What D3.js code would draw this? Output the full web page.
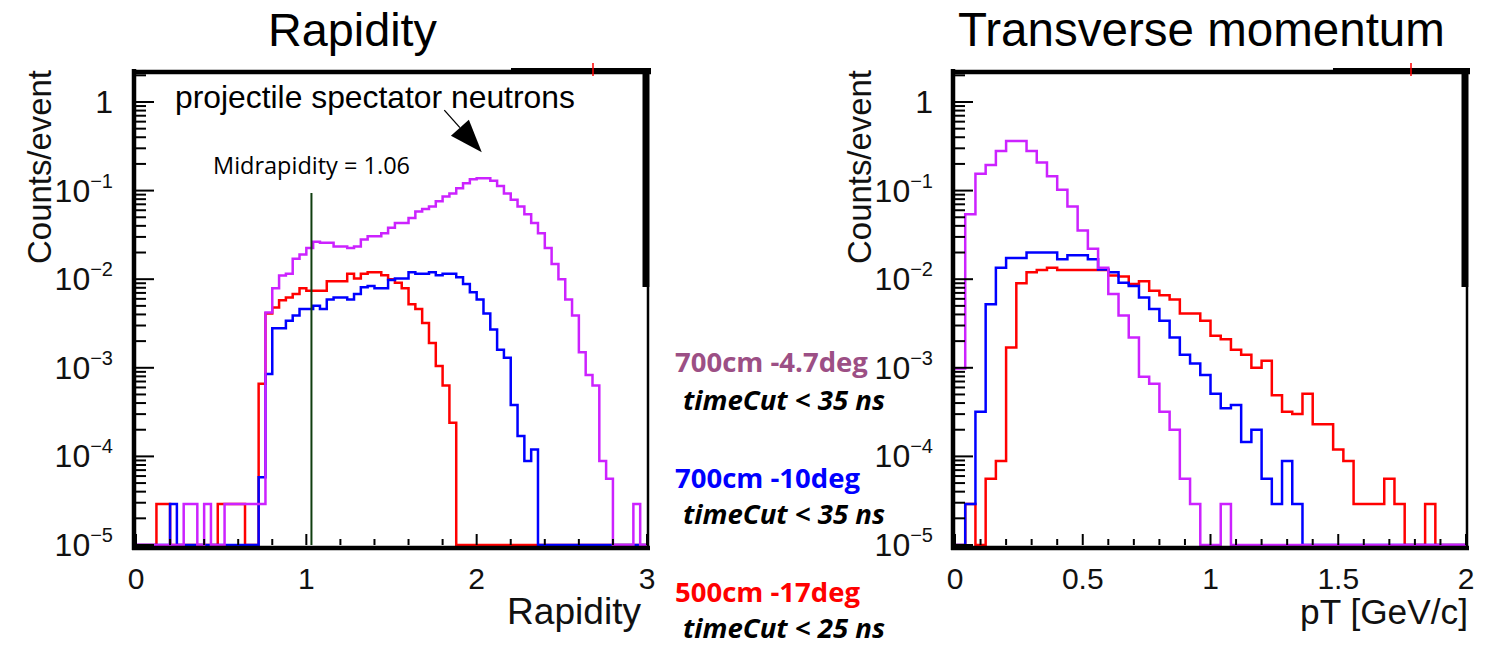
<!DOCTYPE html>
<html><head><meta charset="utf-8">
<script src="https://cdn.jsdelivr.net/npm/d3@7"></script>
<style>body{margin:0;background:#fff}svg{display:block}</style>
</head><body>
<svg id="c" width="1486" height="649"></svg>
<script>
// ---------------- data ----------------
const rapBinWidth = 0.04;   // 75 bins, 0..3
const ptBinWidth = 0.04;    // 50 bins, 0..2

const rapMagenta = [0,0,0,0,0,0,0, 2.9e-5,2.9e-5,0,2.9e-5,0,0, 2.9e-5,2.9e-5,2.9e-5,2.9e-5,2.9e-5,2.9e-5,
 4.2e-3,7.9e-3,1.1e-2,1.15e-2,1.7e-2,1.9e-2,2.25e-2,2.65e-2,2.57e-2,2.57e-2,
 2.34e-2,2.34e-2,2.25e-2,2.34e-2,2.8e-2,3.05e-2,3.05e-2,3.3e-2,3.8e-2,4.3e-2,
 4.3e-2,4.9e-2,5.8e-2,6.2e-2,6.6e-2,7.6e-2,8.6e-2,9.3e-2,0.106,0.121,
 0.134,0.138,0.138,0.129,0.113,9.3e-2,7.9e-2,6.6e-2,5.4e-2,4.3e-2,
 3.3e-2,2.25e-2,1.48e-2,1.0e-2,5.9e-3,3.9e-3,1.5e-3,8.3e-4,6.3e-4,8.9e-5,
 5.6e-5,0,0,0,2.9e-5,0];
const rapBlue = [0,0,0,0,0,2.9e-5,0,0,0,0,0,0,0,0,0,0,0,0,5.8e-5,8.5e-4,
 2.8e-3,2.8e-3,3.4e-3,3.9e-3,4.6e-3,4.6e-3,5.0e-3,4.6e-3,5.9e-3,6.2e-3,
 6.2e-3,5.9e-3,6.8e-3,8.1e-3,8.4e-3,7.9e-3,7.9e-3,9.8e-3,1.02e-2,1.02e-2,
 1.2e-2,1.15e-2,1.15e-2,1.2e-2,1.11e-2,1.15e-2,1.15e-2,1.05e-2,8.8e-3,7.1e-3,
 5.9e-3,4.1e-3,2.7e-3,1.6e-3,1.3e-3,3.8e-4,1.7e-4,8.9e-5,1.2e-4,0,
 0,0,0,0,0,0,0,0,0,0,0,0,0,0,0];
const rapRed = [0,0,0,2.9e-5,2.9e-5,0,0,0,0,0,0,0,2.9e-5,2.9e-5,2.9e-5,2.9e-5,0,0,6.6e-4,4.1e-3,
 4.8e-3,5.8e-3,6.2e-3,6.8e-3,7.9e-3,7.4e-3,7.4e-3,7.4e-3,9.5e-3,9.5e-3,
 9.5e-3,1.15e-2,1.02e-2,1.15e-2,1.2e-2,1.2e-2,1.11e-2,1.0e-2,9.1e-3,7.9e-3,
 5.2e-3,4.6e-3,3.2e-3,1.9e-3,1.05e-3,6.3e-4,2.4e-4,0,0,0,
 0,0,0,0,0,0,0,0,0,0,0,0,0,0,0,0,0,0,0,0,0,0,0,0,0];

const ptMagenta = [9.8e-4,5.4e-2,0.155,0.195,0.28,0.363,0.363,0.28,0.207,0.145,
 0.102,6.6e-2,3.55e-2,2.2e-2,1.35e-2,6.8e-3,3.9e-3,2.2e-3,7.9e-4,6.6e-4,
 3.2e-4,2.0e-4,5.6e-5,2.9e-5,0,0,2.9e-5,0,0,0,
 0,0,0,0,0,0,0,0,0,0,0,0,0,0,0,0,0,0,0,0];
const ptBlue = [0,2.9e-5,3.2e-4,5.2e-3,1.35e-2,1.74e-2,1.74e-2,2.0e-2,2.0e-2,2.0e-2,
 1.68e-2,1.86e-2,1.86e-2,1.68e-2,1.29e-2,1.2e-2,9.1e-3,8.4e-3,6.2e-3,4.6e-3,
 3.4e-3,2.2e-3,1.4e-3,1.12e-3,8.3e-4,5.1e-4,3.5e-4,3.8e-4,1.45e-4,2.0e-4,
 5.6e-5,2.9e-5,8.9e-5,2.9e-5,0,0,0,0,0,0,
 0,0,0,0,0,0,0,0,0,0];
const ptRed = [0,2.9e-5,0,5.6e-5,8.9e-5,1.7e-3,9.0e-3,1.2e-2,1.27e-2,1.35e-2,
 1.27e-2,1.27e-2,1.27e-2,1.27e-2,1.27e-2,1.1e-2,1.07e-2,8.8e-3,9.5e-3,7.4e-3,
 6.6e-3,5.9e-3,4.1e-3,4.1e-3,3.4e-3,2.3e-3,2.1e-3,1.6e-3,1.4e-3,1.0e-3,
 1.2e-3,4.9e-4,3.2e-4,3.0e-4,5.1e-4,2.3e-4,2.3e-4,1.2e-4,8.9e-5,2.9e-5,
 2.9e-5,2.9e-5,5.6e-5,2.9e-5,0,0,2.9e-5,0,0,0];

const yTickExponents = [0,-1,-2,-3,-4,-5];
const rapTicks = [0,1,2,3];
const rapTickLabels = ["0","1","2","3"];
const ptTicks = [0,0.5,1,1.5,2];
const ptTickLabels = ["0","0.5","1","1.5","2"];

const panelTitles = ["Rapidity","Transverse momentum"];
const xTitles = ["Rapidity","pT [GeV/c]"];
const yTitle = "Counts/event";

const legendLabels = ["700cm -4.7deg","700cm -10deg","500cm -17deg"];
const legendCuts = ["timeCut < 35 ns","timeCut < 35 ns","timeCut < 25 ns"];
const legendColors = ["#9c4f85","#0000ff","#ff0000"];
const seriesColors = ["#ff0000","#0000ff","#cc22ff"]; // red, blue, magenta (draw order)

const midrapidityLabel = "Midrapidity = 1.06";
const midLineX = 1.03, midLineTop = 0.094;
const annotation = "projectile spectator neutrons";
const arrowTail = [1.81, 0.81], arrowTip = [2.03, 0.27];

// ---------------- drawing ----------------
const svg = d3.select("#c");
const ROOT = "'Liberation Sans', Arial, sans-serif";
const CAL = "'Open Sans', 'Noto Sans', sans-serif";
const yBot = 545, yTop = 72;
const y = d3.scaleLog().domain([1e-5, 2.18]).range([yBot, yTop]);

function fit(sel, w){
  const n = sel.node(); const cur = n.getComputedTextLength();
  const fs = parseFloat(sel.attr("font-size"));
  sel.attr("font-size", (fs*w/cur).toFixed(2));
}

const panels = [
  {x0:136, x1:647, domain:[0,3], bw:rapBinWidth, series:[rapRed,rapBlue,rapMagenta],
   ticks:rapTicks, labels:rapTickLabels, minor:0.2, topStep:511, yTitleX:51, yLabelRight:113,
   titleX:268, xTitle:xTitles[0], xTitleRight:641, xTitleW:134, redMark:593},
  {x0:955, x1:1466, domain:[0,2], bw:ptBinWidth, series:[ptRed,ptBlue,ptMagenta],
   ticks:ptTicks, labels:ptTickLabels, minor:0.1, topStep:1333, yTitleX:871, yLabelRight:933,
   titleX:958, xTitle:xTitles[1], xTitleRight:1468, xTitleW:168, redMark:1411}
];

panels.forEach((p, pi) => {
  const x = d3.scaleLinear().domain(p.domain).range([p.x0, p.x1]);
  const g = svg.append("g");

  // histograms
  const line = d3.line().x(d => x(d[0])).y(d => y(Math.max(d[1], 1e-5))).curve(d3.curveStepAfter);
  p.series.forEach((vals, si) => {
    const pts = vals.map((v, i) => [i*p.bw, v]);
    pts.push([vals.length*p.bw, vals[vals.length-1]]);
    g.append("path").attr("d", line(pts)).attr("fill","none")
      .attr("stroke", seriesColors[si]).attr("stroke-width", 2.5);
  });

  // frame
  const f = g.append("g").attr("stroke","#000").attr("fill","none");
  f.append("line").attr("x1",p.x0-2).attr("x2",p.x0-2).attr("y1",yTop-3).attr("y2",yBot+5).attr("stroke-width",4.5);
  f.append("line").attr("x1",p.x0-4).attr("x2",p.x1+3).attr("y1",yBot+3).attr("y2",yBot+3).attr("stroke-width",4.5);
  f.append("line").attr("x1",p.x0-4).attr("x2",p.x1+4).attr("y1",yTop).attr("y2",yTop).attr("stroke-width",4.5);
  f.append("line").attr("x1",p.topStep).attr("x2",p.x1+4).attr("y1",yTop-2).attr("y2",yTop-2).attr("stroke-width",4);
  f.append("line").attr("x1",p.x1-1).attr("x2",p.x1-1).attr("y1",yTop-3).attr("y2",287).attr("stroke-width",7);
  f.append("line").attr("x1",p.x1+1).attr("x2",p.x1+1).attr("y1",287).attr("y2",yBot+5).attr("stroke-width",2.5);
  g.append("line").attr("x1",p.redMark).attr("x2",p.redMark).attr("y1",63).attr("y2",76)
    .attr("stroke","#ff0000").attr("stroke-width",1.5);

  // y ticks (log, with minor)
  const t = g.append("g").attr("stroke","#000").attr("stroke-width",2);
  yTickExponents.forEach(e => {
    t.append("line").attr("x1",p.x0).attr("x2",p.x0+18).attr("y1",y(10**e)).attr("y2",y(10**e));
    if (e < 0) for (let m=2;m<=9;m++){
      const v = m*10**e;
      t.append("line").attr("x1",p.x0).attr("x2",p.x0+10).attr("y1",y(v)).attr("y2",y(v));
    }
  });
  t.append("line").attr("x1",p.x0).attr("x2",p.x0+10).attr("y1",y(2)).attr("y2",y(2));
  // x ticks
  const nMinor = Math.round((p.domain[1]-p.domain[0])/p.minor);
  for (let i=0;i<=nMinor;i++){
    const v = p.domain[0]+i*p.minor;
    const major = p.ticks.some(tv => Math.abs(tv-v)<1e-6);
    t.append("line").attr("x1",x(v)).attr("x2",x(v)).attr("y1",yBot).attr("y2",yBot-(major?11:6));
  }

  // y labels
  yTickExponents.forEach(e => {
    const tx = g.append("text").attr("x",p.yLabelRight).attr("y",y(10**e)+11)
      .attr("text-anchor","end").attr("font-family",ROOT).attr("font-size",32).attr("fill","#111");
    if (e === 0) tx.text("1");
    else {
      tx.append("tspan").text("10");
      tx.append("tspan").attr("font-size",20).attr("dy",-14).text("\u2212"+(-e));
    }
  });
  // x labels
  p.ticks.forEach((v,i) => {
    g.append("text").attr("x",x(v)).attr("y",589).attr("text-anchor","middle")
      .attr("font-family",ROOT).attr("font-size",30).attr("fill","#111").text(p.labels[i]);
  });
  // axis titles
  const xt = g.append("text").attr("x",p.xTitleRight).attr("y",624).attr("text-anchor","end")
    .attr("font-family",ROOT).attr("font-size",31).attr("fill","#111").text(p.xTitle);
  fit(xt, p.xTitleW);
  const yt = g.append("text").attr("transform",`translate(${p.yTitleX},70) rotate(-90)`)
    .attr("text-anchor","end").attr("font-family",ROOT).attr("font-size",31).attr("fill","#111").text(yTitle);
  fit(yt, 194);
  // panel title
  const pt = g.append("text").attr("x",p.titleX).attr("y",46).attr("font-family",ROOT)
    .attr("font-size",46).attr("fill","#000").text(panelTitles[pi]);
  fit(pt, pi===0 ? 169 : 487);

  if (pi === 0) {
    // midrapidity line
    g.append("line").attr("x1",x(midLineX)).attr("x2",x(midLineX)).attr("y1",y(1e-5)).attr("y2",y(midLineTop))
      .attr("stroke","#0f3d0f").attr("stroke-width",2);
    const mt = g.append("text").attr("x",213).attr("y",174).attr("font-family",CAL).attr("font-size",20)
      .attr("fill","#000").text(midrapidityLabel);
    fit(mt, 197);
    const at = g.append("text").attr("x",175).attr("y",108).attr("font-family",ROOT).attr("font-size",28)
      .attr("fill","#000").text(annotation);
    fit(at, 400);
    // arrow
    const tx0 = x(arrowTail[0]), ty0 = y(arrowTail[1]), tx1 = x(arrowTip[0]), ty1 = y(arrowTip[1]);
    const L = Math.hypot(tx1-tx0, ty1-ty0), ux=(tx1-tx0)/L, uy=(ty1-ty0)/L;
    const hl = 33, hw = 12;
    const bx = tx1-ux*hl, by = ty1-uy*hl;
    g.append("line").attr("x1",tx0).attr("y1",ty0).attr("x2",bx).attr("y2",by).attr("stroke","#000").attr("stroke-width",1.3);
    g.append("path").attr("d",`M${tx1},${ty1}L${bx-uy*hw},${by+ux*hw}L${bx+uy*hw},${by-ux*hw}Z`).attr("fill","#000");
  }
});

// legend (middle)
const baseL = [372, 488, 602], baseC = [410, 524, 638], wL = [193, 185, 185];
legendLabels.forEach((lab, i) => {
  const a = svg.append("text").attr("x",675).attr("y",baseL[i]).attr("font-family",CAL).attr("font-weight","bold")
    .attr("font-size",26).attr("fill",legendColors[i]).text(lab);
  fit(a, wL[i]);
  const b = svg.append("text").attr("x",683).attr("y",baseC[i]).attr("font-family",CAL).attr("font-weight","bold")
    .attr("font-style","italic").attr("font-size",24).attr("fill","#000").text(legendCuts[i]);
  fit(b, 202);
});
</script>
</body></html>
